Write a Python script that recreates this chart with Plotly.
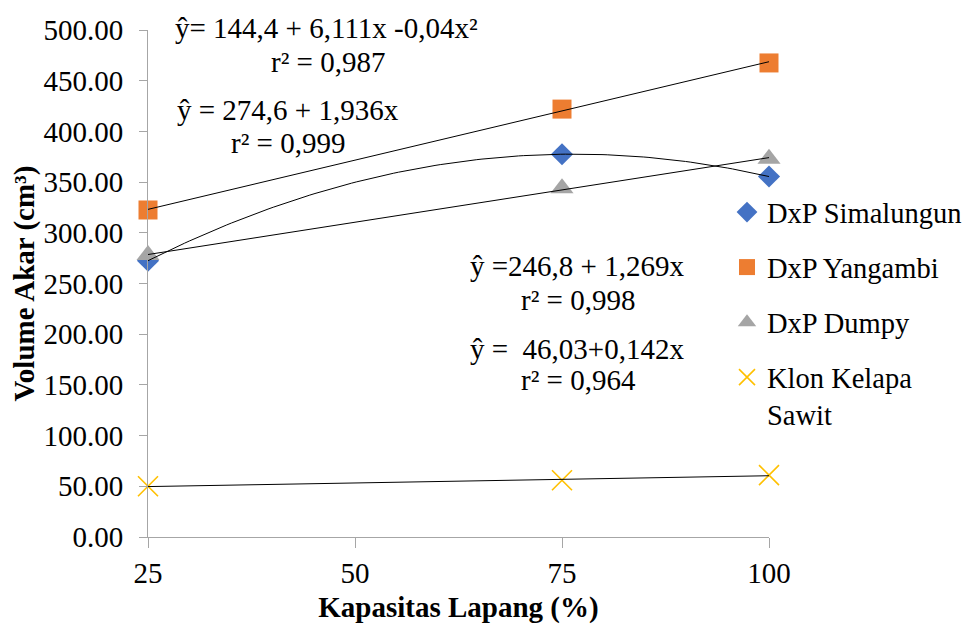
import numpy as np
import plotly.graph_objects as go

# ---------------- data ----------------
x_vals = [25, 75, 100]
simalungun = [272.5, 377.5, 355.5]
yangambi = [322.5, 422.0, 467.5]
dumpy = [278.0, 344.0, 373.0]
klon = [50.0, 56.0, 61.0]

series_names = ["DxP Simalungun", "DxP Yangambi", "DxP Dumpy", "Klon Kelapa<br>Sawit"]
series_values = [simalungun, yangambi, dumpy, klon]
fit_degree = [2, 1, 1, 1]

y_ticks = [0, 50, 100, 150, 200, 250, 300, 350, 400, 450, 500]
x_ticks = [25, 50, 75, 100]

eq_lines = [
    "ŷ= 144,4 + 6,111x -0,04x²", "r² = 0,987",
    "ŷ = 274,6 + 1,936x", "r² = 0,999",
    "ŷ =246,8 + 1,269x", "r² = 0,998",
    "ŷ =  46,03+0,142x", "r² = 0,964",
]

# ---------------- style ----------------
FONT = "Liberation Serif"
FS = 29
colors = ["#4472C4", "#ED7D31", "#A5A5A5", "#FFC000"]
symbols = ["diamond", "square", "triangle-up", "x-thin"]
sizes = [17, 19, 20, 20]

# page offset (default body margin) compensation
OX, OY = 8, 8
W, H = 976 - OX, 625 - OY
L, R, T, B = 148 - OX, 769 - OX, 30 - OY, 537 - OY

fig = go.Figure()

for i, (name, vals) in enumerate(zip(series_names, series_values)):
    marker = dict(symbol=symbols[i], size=sizes[i], color=colors[i])
    if symbols[i] == "x-thin":
        marker["line"] = dict(color=colors[i], width=1.6)
    else:
        marker["line"] = dict(width=0)
    fig.add_trace(go.Scatter(
        x=x_vals, y=vals, mode="markers", name=name, marker=marker,
        legendgroup=f"g{i}", showlegend=True, cliponaxis=False,
    ))

# trendlines fitted from the data
for i, vals in enumerate(series_values):
    coefs = np.polyfit(x_vals, vals, fit_degree[i])
    xs = np.linspace(min(x_vals), max(x_vals), 120)
    ys = np.polyval(coefs, xs)
    fig.add_trace(go.Scatter(
        x=xs, y=ys, mode="lines", line=dict(color="black", width=1),
        showlegend=False, hoverinfo="skip", cliponaxis=False,
    ))

def px2paper(px, py):
    # px, py in reference-picture pixels
    px -= OX
    py -= OY
    return (px - L) / (R - L), (B - py) / (B - T)

ann_pos = [(173, 28), (269, 62), (175, 110), (229, 143),
           (468, 266), (519, 300), (468, 349), (519, 380)]
for text, (px, py) in zip(eq_lines, ann_pos):
    ax, ay = px2paper(px, py)
    fig.add_annotation(
        x=ax, y=ay, xref="paper", yref="paper", text=text, showarrow=False,
        xanchor="left", yanchor="middle", font=dict(family=FONT, size=FS, color="black"),
    )

lx, ly = px2paper(727, 187)
fig.update_layout(
    width=W, height=H,
    margin=dict(l=L, r=W - R, t=T, b=H - B, pad=0, autoexpand=False),
    paper_bgcolor="white", plot_bgcolor="white",
    font=dict(family=FONT, size=FS, color="black"),
    legend=dict(
        x=lx, y=ly, xanchor="left", yanchor="top",
        font=dict(family=FONT, size=28.5, color="black"),
        bgcolor="rgba(0,0,0,0)", tracegroupgap=15, valign="top",
        traceorder="grouped",
    ),
    xaxis=dict(
        range=[25, 100], tickvals=x_ticks, ticktext=[str(v) for v in x_ticks],
        showgrid=False, zeroline=False, showline=True, linecolor="#A6A6A6", linewidth=1,
        ticks="outside", ticklen=10, tickcolor="#A6A6A6", tickwidth=1,
        ticklabelstandoff=0, automargin=False,
        tickfont=dict(family=FONT, size=FS, color="black"),
        title=dict(text="<b>Kapasitas Lapang (%)</b>", font=dict(family=FONT, size=FS), standoff=8),
    ),
    yaxis=dict(
        range=[0, 500], tickvals=y_ticks, ticktext=[f"{v:.2f}" for v in y_ticks],
        showgrid=False, zeroline=False, showline=True, linecolor="#A6A6A6", linewidth=1,
        ticks="outside", ticklen=8, tickcolor="#A6A6A6", tickwidth=1,
        ticklabelstandoff=10, automargin=False,
        tickfont=dict(family=FONT, size=FS, color="black"),
        title=dict(text="<b>Volume Akar (cm³)</b>", font=dict(family=FONT, size=FS), standoff=6),
    ),
)

fig.write_html("out.html")
